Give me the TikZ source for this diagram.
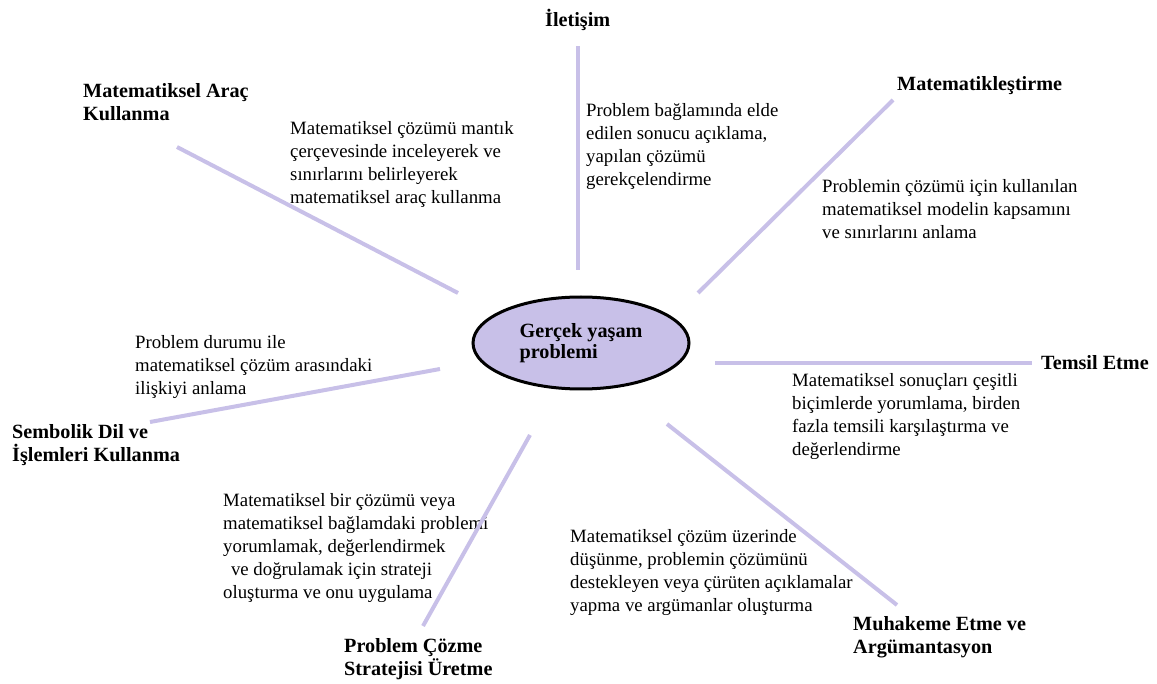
\documentclass[tikz,border=0pt]{standalone}
\usepackage{fontspec}
\setmainfont{Liberation Serif}
\usetikzlibrary{shapes.geometric}
\definecolor{lav}{RGB}{200,192,232}
\begin{document}
\begin{tikzpicture}[x=1pt,y=-1pt,
  spoke/.style={draw=lav,line width=4pt},
  title/.style={font=\fontsize{20.2}{23}\selectfont\bfseries,align=left,anchor=north west,inner sep=0pt},
  desc/.style={font=\fontsize{18.8}{23}\selectfont,align=left,anchor=north west,inner sep=0pt},
  core/.style={ellipse,draw=black,line width=3pt,fill=lav,minimum width=216pt,minimum height=92pt,
    inner sep=0pt,font=\fontsize{20.2}{21}\selectfont\bfseries,align=left}]
\useasboundingbox (0,0) rectangle (1157,684);

% central concept
\node[core] (center) at (581,343) {Gerçek yaşam\\problemi};

% competency titles
\node[title] (iletisim) at (545,9) {İletişim};
\node[title] (matem) at (897,76) {Matematikleştirme};
\node[title] (temsil) at (1041,355) {Temsil Etme};
\node[title] (muhakeme) at (853,616) {Muhakeme Etme ve\\Argümantasyon};
\node[title] (strateji) at (344,638) {Problem Çözme\\Stratejisi Üretme};
\node[title] (sembolik) at (12,424) {Sembolik Dil ve\\İşlemleri Kullanma};
\node[title] (arac) at (83,83) {Matematiksel Araç\\Kullanma};

% descriptions
\node[desc] (d-iletisim) at (586,103) {Problem bağlamında elde\\edilen sonucu açıklama,\\yapılan çözümü\\gerekçelendirme};
\node[desc] (d-matem) at (822,179) {Problemin çözümü için kullanılan\\matematiksel modelin kapsamını\\ve sınırlarını anlama};
\node[desc] (d-temsil) at (792,373) {Matematiksel sonuçları çeşitli\\biçimlerde yorumlama, birden\\fazla temsili karşılaştırma ve\\değerlendirme};
\node[desc] (d-muhakeme) at (570,529) {Matematiksel çözüm üzerinde\\düşünme, problemin çözümünü\\destekleyen veya çürüten açıklamalar\\yapma ve argümanlar oluşturma};
\node[desc] (d-strateji) at (223,493) {Matematiksel bir çözümü veya\\matematiksel bağlamdaki problemi\\yorumlamak, değerlendirmek\\\ \,ve doğrulamak için strateji\\oluşturma ve onu uygulama};
\node[desc] (d-sembolik) at (135,335) {Problem durumu ile\\matematiksel çözüm arasındaki\\ilişkiyi anlama};
\node[desc] (d-arac) at (290,121) {Matematiksel çözümü mantık\\çerçevesinde inceleyerek ve\\sınırlarını belirleyerek\\matematiksel araç kullanma};

% spoke end points
\coordinate (iletisim-in) at (578,270);
\coordinate (iletisim-out) at (578,46);
\coordinate (matem-in) at (698,293);
\coordinate (matem-out) at (893,100);
\coordinate (temsil-in) at (715,363);
\coordinate (temsil-out) at (1032,363);
\coordinate (muhakeme-in) at (667,424);
\coordinate (muhakeme-out) at (897,605);
\coordinate (strateji-in) at (530,435);
\coordinate (strateji-out) at (423,626);
\coordinate (sembolik-in) at (440,369);
\coordinate (sembolik-out) at (150,422);
\coordinate (arac-in) at (458,293);
\coordinate (arac-out) at (177,147);

% spokes
\foreach \k in {iletisim,matem,temsil,muhakeme,strateji,sembolik,arac}
  \draw[spoke] (\k-in) -- (\k-out);
\end{tikzpicture}
\end{document}
